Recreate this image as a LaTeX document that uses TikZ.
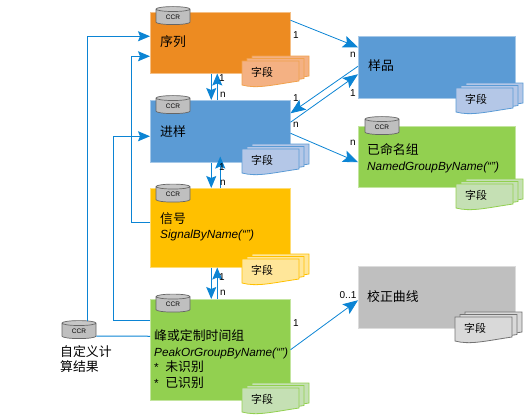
\documentclass[tikz,border=0pt]{standalone}
\usepackage{fontspec}
\setmainfont{Liberation Sans}
\newfontfamily\cjk{Noto Sans CJK SC}[Scale=1.09]
\usepackage{tikz}
\usetikzlibrary{arrows.meta,positioning,calc,shapes.geometric}

\definecolor{linkblue}{HTML}{0B84D4}
\definecolor{seqorange}{HTML}{ED8B21}
\definecolor{prepblue}{HTML}{5B9BD5}
\definecolor{sigyellow}{HTML}{FFC000}
\definecolor{peakgreen}{HTML}{92D050}
\definecolor{calgray}{HTML}{BFBFBF}
\definecolor{seqsheet}{HTML}{F4B183}
\definecolor{prepsheet}{HTML}{B4C7E7}
\definecolor{sigsheet}{HTML}{FFE699}
\definecolor{peaksheet}{HTML}{C5E0B4}
\definecolor{calsheet}{HTML}{D9D9D9}

\tikzset{
    databox/.style={rectangle, anchor=north west, inner sep=0pt, minimum width=140pt, draw=#1!55!white, fill=#1, line width=0.5pt},
    boxtext/.style={anchor=west, inner sep=0pt, align=left, font=\fontsize{11.8}{15.5}\selectfont},
    multi/.style={inner sep=0pt, font=\fontsize{10}{10}\selectfont},
    ccrdb/.style={cylinder, shape border rotate=90, aspect=0.35, anchor=center, inner sep=0pt, minimum width=34pt, minimum height=18pt, draw=black!60, line width=0.7pt, cylinder uses custom fill, cylinder body fill=black!25, cylinder end fill=black!22, font=\fontsize{6.5}{7}\selectfont},
    link/.style={draw=linkblue, line width=1pt},
    linkto/.style={link, -{Stealth[length=12pt,width=10pt,inset=2pt]}},
    slant/.style={draw=linkblue, line width=0.8pt, -{Stealth[length=15pt,width=12pt,inset=3pt]}},
    pics/fieldstack/.style n args={2}{code={
        \foreach \dx/\dy in {10/-5, 5/-2.5, 0/0} {
            \draw[draw=#2, fill=#1, line width=0.8pt, shift={(\dx,\dy)}]
                (0,0) -- (57,0) -- (57,20) .. controls (30,24) and (15,28) .. (0,24) -- cycle;
        }
        \node[inner sep=0pt, font=\cjk\fontsize{10}{10}\selectfont] (label) at (20,11) {字段};
    }}
}

\begin{document}
\begin{tikzpicture}[x=1pt,y=-1pt]
    \useasboundingbox (0,0) rectangle (529,416);

    % left column
    \node[databox=seqorange, minimum height=61pt] (seqbox) at (150,12) {};
    \node[databox=prepblue, minimum height=62pt] (prepbox) at (150,100) {};
    \node[databox=sigyellow, minimum height=79pt] (sigbox) at (150,188) {};
    \node[databox=peakgreen, minimum height=101pt] (peakbox) at (150,299) {};

    % right column
    \node[databox=prepblue, minimum width=157pt, minimum height=62pt] (samplebox) at (358,36) {};
    \node[databox=peakgreen, minimum width=157pt, minimum height=61pt] (groupbox) at (358,126) {};
    \node[databox=calgray, minimum width=157pt, minimum height=62pt] (curvebox) at (358,266) {};

    % database marks
    \node[ccrdb] (seqdb) at (173,17) {CCR};
    \node[ccrdb] (prepdb) at (173,106) {CCR};
    \node[ccrdb] (sigdb) at (173,194.5) {CCR};
    \node[ccrdb] (peakdb) at (173,304.5) {CCR};
    \node[ccrdb] (groupdb) at (382,127) {CCR};
    \node[ccrdb] (calcdb) at (79,331) {CCR};

    % field sheets
    \pic (seqfld) at (242,61) {fieldstack={seqsheet}{seqorange!80!white}};
    \pic (prepfld) at (242,149) {fieldstack={prepsheet}{prepblue}};
    \pic (sigfld) at (242,259) {fieldstack={sigsheet}{sigyellow}};
    \pic (peakfld) at (242,388) {fieldstack={peaksheet}{peakgreen}};
    \pic (samplefld) at (456,88) {fieldstack={prepsheet}{prepblue}};
    \pic (groupfld) at (456,184) {fieldstack={peaksheet}{peakgreen}};
    \pic (curvefld) at (455,317) {fieldstack={calsheet}{black!55}};

    % box texts
    \node[boxtext] (seqtext) at (160,42) {\cjk 序列};
    \node[boxtext] (preptext) at (160,132) {\cjk 进样};
    \node[boxtext] (sigtext) at (160,227) {{\cjk 信号}\\\textit{SignalByName(“”)}};
    \node[boxtext] (peaktext) at (154,359) {{\cjk 峰或定制时间组}\\\textit{PeakOrGroupByName(“”)}\\* \ {\cjk 未识别}\\* \ {\cjk 已识别}};
    \node[boxtext] (sampletext) at (368,66) {\cjk 样品};
    \node[boxtext] (grouptext) at (367,158) {{\cjk 已命名组}\\\textit{NamedGroupByName(“”)}};
    \node[boxtext] (curvetext) at (367,297) {\cjk 校正曲线};
    \node[boxtext] (calctext) at (60,359) {\cjk 自定义计\\\cjk 算结果};

    % links on the left
    \draw[linkto] ([xshift=8pt,yshift=-1pt]calcdb.north) |- ([yshift=6.5pt]seqbox.west);
    \draw[linkto] ([yshift=5.5pt]sigbox.west) -- ++(-19,0) |- ([yshift=-13.5pt]seqbox.west);
    \draw[linkto] ([yshift=29.5pt]peakbox.west) -- ++(-37,0) |- ([yshift=-5pt]prepbox.west);
    \draw[link] ([yshift=-5pt]calcdb.east) -- ([yshift=13.5pt]peakbox.west);

    % links between the boxes
    \draw[linkto] ([xshift=-9pt]seqbox.south) -- ([xshift=-9pt]prepbox.north);
    \draw[linkto] ([xshift=-3pt]prepbox.north) -- ([xshift=-3pt]seqbox.south);
    \draw[linkto] ([xshift=-9pt]prepbox.south) -- ([xshift=-9pt]sigbox.north);
    \draw[linkto] (sigbox.north) -- ([yshift=6pt]prepbox.south);
    \draw[linkto] ([xshift=-9pt]sigbox.south) -- ([xshift=-9pt]peakbox.north);
    \draw[linkto] ([xshift=-3pt]peakbox.north) -- ([xshift=-3pt]sigbox.south);

    % links on the right
    \draw[slant] ([yshift=22.5pt]seqbox.east) -- ([yshift=20pt]samplebox.west);
    \draw[slant] ([yshift=1pt]samplebox.west) -- ([yshift=18pt]prepbox.east);
    \draw[slant] ([yshift=9pt]prepbox.east) -- ([yshift=-7pt]samplebox.west);
    \draw[slant] ([yshift=-2pt]prepbox.east) -- ([yshift=-5.5pt]groupbox.west);
    \draw[slant] (peakbox.east) -- ([yshift=-3pt]curvebox.west);

    % multiplicities
    \node[multi] (m1) at (296,35) {1};
    \node[multi] (m2) at (222,78) {1};
    \node[multi] (m3) at (223,95) {n};
    \node[multi] (m4) at (296,98) {1};
    \node[multi] (m5) at (296,125) {n};
    \node[multi] (m6) at (353,55) {n};
    \node[multi] (m7) at (353,93) {1};
    \node[multi] (m8) at (353,143) {n};
    \node[multi] (m9) at (222,167) {1};
    \node[multi] (m10) at (223,183) {n};
    \node[multi] (m11) at (222,277) {1};
    \node[multi] (m12) at (223,293) {n};
    \node[multi] (m13) at (296,323) {1};
    \node[multi] (m14) at (348,295) {0..1};
\end{tikzpicture}
\end{document}
